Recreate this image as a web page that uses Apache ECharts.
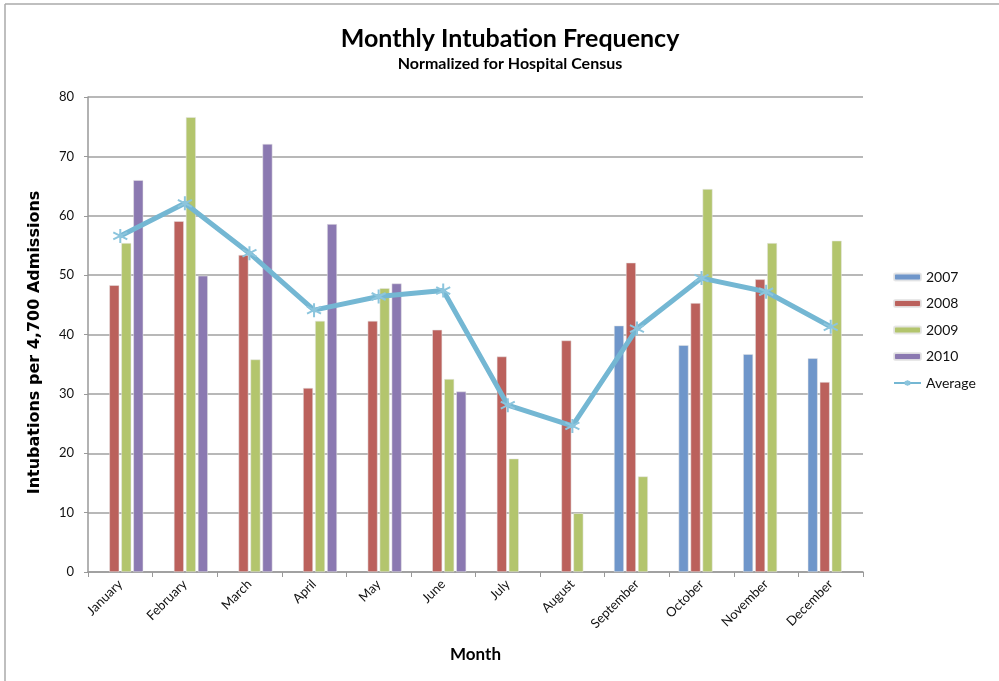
<!DOCTYPE html>
<html>
<head>
<meta charset="utf-8">
<script src="https://cdn.jsdelivr.net/npm/echarts@6/dist/echarts.min.js"></script>
<style>
  html, body { margin: 0; padding: 0; background: #fff; }
  #chart { width: 999px; height: 681px; }
</style>
</head>
<body>
<div id="chart"></div>
<script>
// 月份与各年份数据
const months = ["January", "February", "March", "April", "May", "June",
  "July", "August", "September", "October", "November", "December"];
const y2007 = [null, null, null, null, null, null, null, null, 41.5, 38.2, 36.7, 36.0];
const y2008 = [48.3, 59.1, 53.4, 31.0, 42.3, 40.8, 36.3, 39.0, 52.1, 45.3, 49.3, 32.0];
const y2009 = [55.4, 76.6, 35.8, 42.3, 47.8, 32.5, 19.1, 9.9, 16.1, 64.5, 55.4, 55.8];
const y2010 = [66.0, 49.9, 72.1, 58.6, 48.6, 30.4, null, null, null, null, null, null];
const average = [56.6, 62.1, 53.7, 44.1, 46.4, 47.4, 28.1, 24.6, 41.0, 49.5, 47.2, 41.3];
const yTicks = { min: 0, max: 80, interval: 10 };

const font = "Lato, 'Open Sans', sans-serif";
const starPath = "path://M0,-10L0,10M-8.7,-5L8.7,5M-8.7,5L8.7,-5";

const chart = echarts.init(document.getElementById("chart"), null, { renderer: "canvas" });

function barSeries(name, data, color) {
  return {
    name: name,
    type: "bar",
    data: data,
    barWidth: 10,
    barGap: "20%",
    itemStyle: { color: color, borderColor: "rgba(230,230,230,0.9)", borderWidth: 0.6 }
  };
}

chart.setOption({
  animation: false,
  textStyle: { fontFamily: font },
  title: {
    text: "Monthly Intubation Frequency",
    subtext: "Normalized for Hospital Census",
    left: 505,
    textAlign: "center",
    top: 21,
    itemGap: 5,
    textStyle: { fontFamily: font, fontSize: 25, fontWeight: "bold", color: "#000" },
    subtextStyle: { fontFamily: font, fontSize: 16, fontWeight: "bold", color: "#000" }
  },
  legend: {
    orient: "vertical",
    left: 888,
    top: 265,
    itemWidth: 27,
    itemHeight: 7,
    itemGap: 12.5,
    textStyle: { fontFamily: font, fontSize: 14, color: "#111" },
    data: ["2007", "2008", "2009", "2010", "Average"]
  },
  grid: { left: 88, right: 136, top: 97, bottom: 109, containLabel: false },
  xAxis: {
    type: "category",
    data: months,
    name: "Month",
    nameLocation: "middle",
    nameGap: 74,
    nameTextStyle: { fontFamily: font, fontSize: 17, fontWeight: "bold", color: "#000" },
    axisLine: { lineStyle: { color: "#999", width: 1.5 } },
    axisTick: { show: true, alignWithLabel: false, length: 5, lineStyle: { color: "#999" } },
    axisLabel: { rotate: 45, fontSize: 13, color: "#111", margin: 10 }
  },
  yAxis: {
    type: "value",
    min: yTicks.min,
    max: yTicks.max,
    interval: yTicks.interval,
    name: "Intubations per 4,700 Admissions",
    nameLocation: "middle",
    nameGap: 45,
    nameTextStyle: {
      fontFamily: "'DejaVu Sans', sans-serif", fontSize: 16, fontWeight: "bold", color: "#000",
      padding: [0, 16, 0, 0]
    },
    axisLine: { show: true, lineStyle: { color: "#999", width: 1.5 } },
    axisTick: { show: true, length: 4, lineStyle: { color: "#999" } },
    axisLabel: { fontSize: 13, color: "#111", margin: 14 },
    splitLine: { lineStyle: { color: "#a0a0a0", width: 1.5 } }
  },
  series: [
    barSeries("2007", y2007, "#6f96ca"),
    barSeries("2008", y2008, "#bb615c"),
    barSeries("2009", y2009, "#b3c56d"),
    barSeries("2010", y2010, "#8b79b1"),
    {
      name: "Average",
      type: "line",
      data: average,
      symbol: starPath,
      symbolSize: 14,
      z: 5,
      lineStyle: { color: "#74b7d3", width: 5 },
      itemStyle: { color: "#74b7d3", borderColor: "#8cc5dd", borderWidth: 2 }
    }
  ],
  graphic: [
    { type: "line", shape: { x1: 5, y1: 4, x2: 999, y2: 4 }, style: { stroke: "#aaa", lineWidth: 1.5 } },
    { type: "line", shape: { x1: 5, y1: 4, x2: 5, y2: 681 }, style: { stroke: "#aaa", lineWidth: 1.5 } }
  ]
});
</script>
</body>
</html>
